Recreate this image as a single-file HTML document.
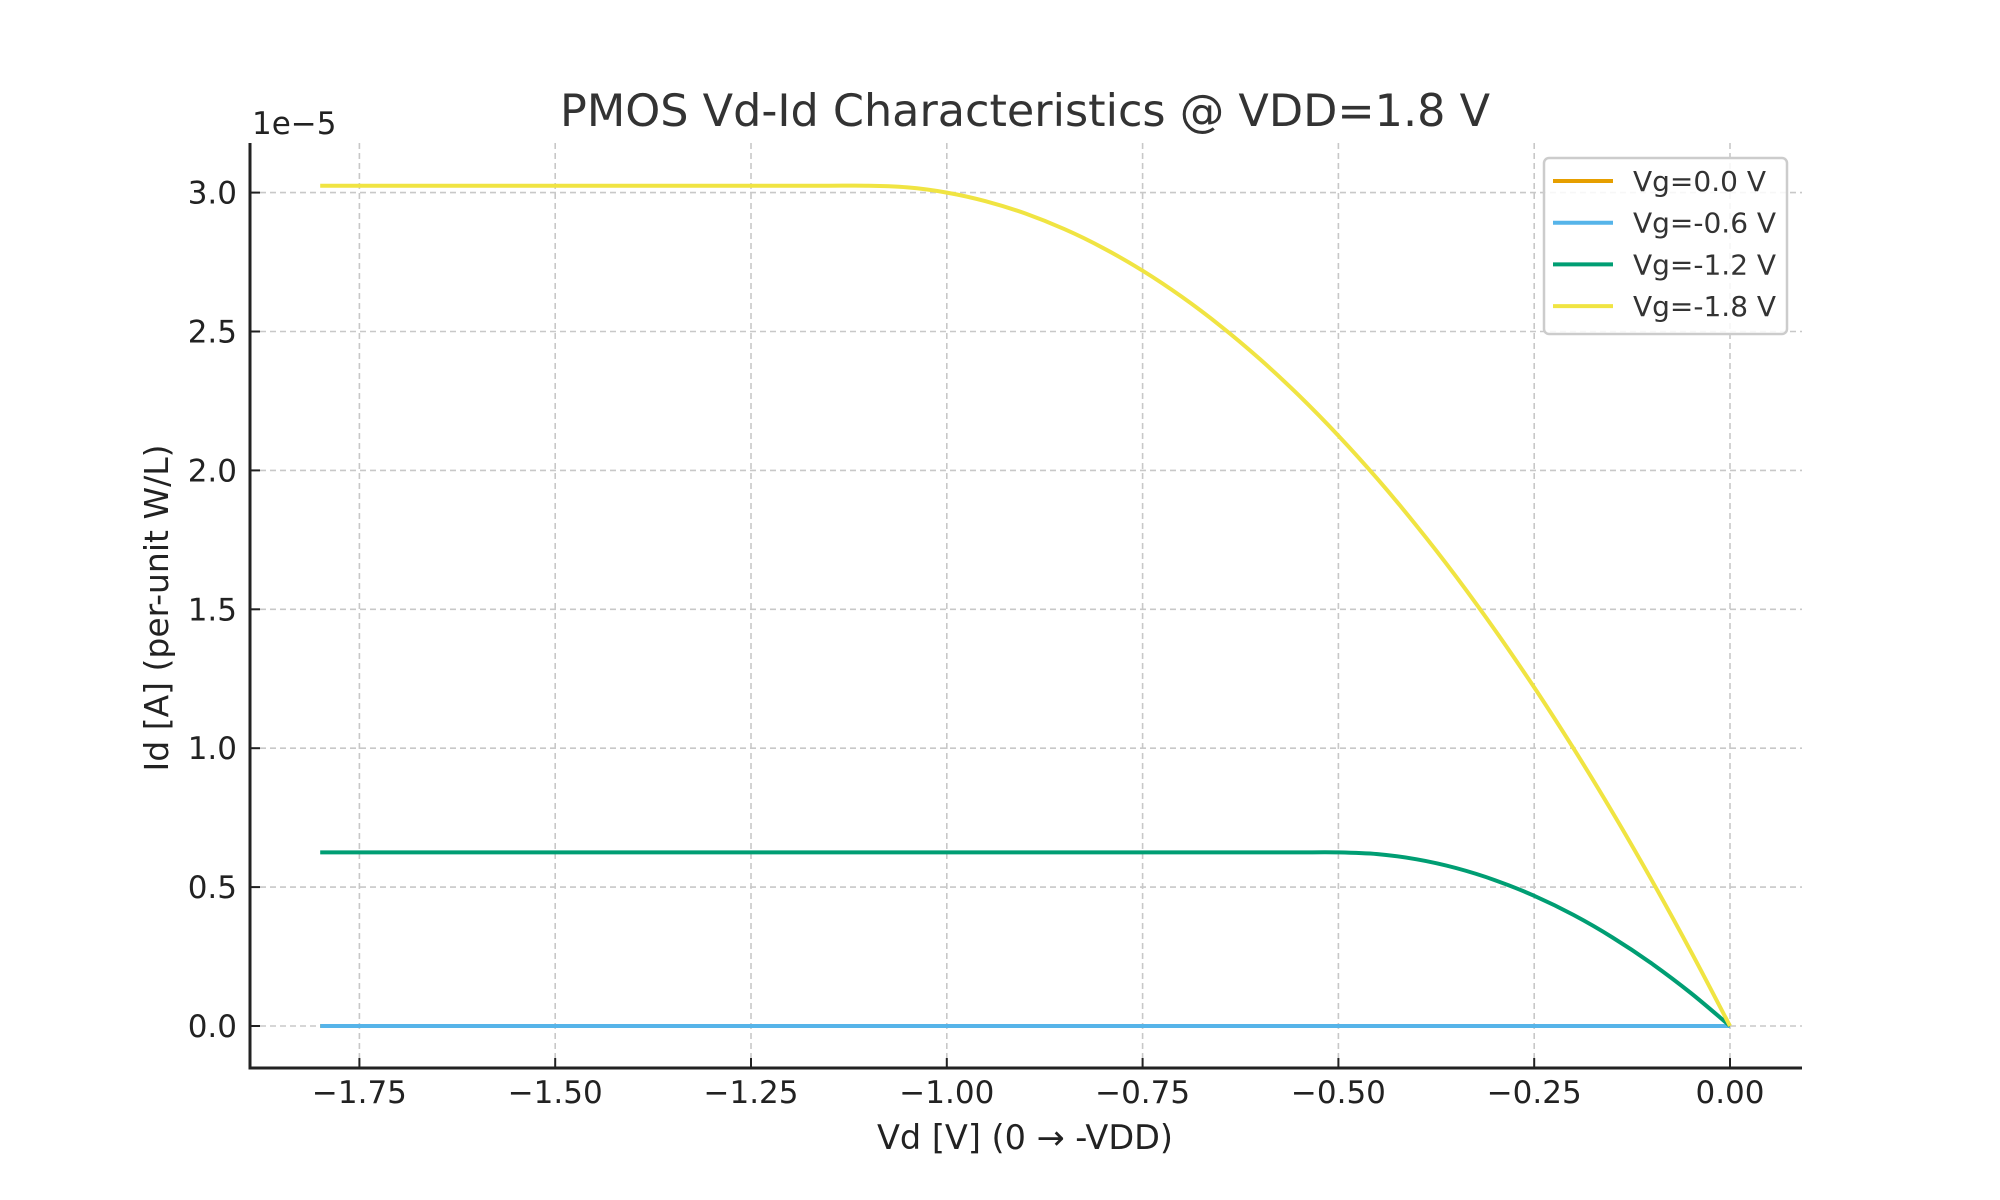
<!DOCTYPE html>
<html><head><meta charset="utf-8"><style>
html,body{margin:0;padding:0;background:#fff}
svg{display:block}
text{font-family:"DejaVu Sans","Liberation Sans",sans-serif}
</style></head><body>
<svg id="chart" width="2000" height="1200" viewBox="0 0 2000 1200">
<rect width="2000" height="1200" fill="#fff"/>
<g id="grid"></g>
<g id="series"></g>
<g id="axes"></g>
<text x="1025" y="126" font-size="44.5" fill="#333" text-anchor="middle">PMOS Vd-Id Characteristics @ VDD=1.8 V</text>
<text x="252" y="134" font-size="31" fill="#222">1e−5</text>
<text x="1025" y="1149" font-size="33.5" fill="#222" text-anchor="middle">Vd [V] (0 → -VDD)</text>
<text x="0" y="0" font-size="33" fill="#222" text-anchor="middle" transform="translate(168,608) rotate(-90)">Id [A] (per-unit W/L)</text>
<g id="legend">
<rect x="1544" y="158" width="243" height="176" rx="5" fill="#fff" fill-opacity="0.85" stroke="#ccc" stroke-width="2.5"/>
</g>
</svg>
<script>
const vd = [0,-0.05,-0.1,-0.15,-0.2,-0.25,-0.3,-0.35,-0.4,-0.45,-0.5,-0.55,-0.6,-0.65,-0.7,-0.75,-0.8,-0.85,-0.9,-0.95,-1.0,-1.05,-1.1,-1.15,-1.2,-1.25,-1.3,-1.35,-1.4,-1.45,-1.5,-1.55,-1.6,-1.65,-1.7,-1.75,-1.8];
const idVg0 = [0,0,0,0,0,0,0,0,0,0,0,0,0,0,0,0,0,0,0,0,0,0,0,0,0,0,0,0,0,0,0,0,0,0,0,0,0];
const idVg06 = [0,0,0,0,0,0,0,0,0,0,0,0,0,0,0,0,0,0,0,0,0,0,0,0,0,0,0,0,0,0,0,0,0,0,0,0,0];
const idVg12 = [0,0.11875,0.225,0.31875,0.4,0.46875,0.525,0.56875,0.6,0.61875,0.625,0.625,0.625,0.625,0.625,0.625,0.625,0.625,0.625,0.625,0.625,0.625,0.625,0.625,0.625,0.625,0.625,0.625,0.625,0.625,0.625,0.625,0.625,0.625,0.625,0.625,0.625];
const idVg18 = [0,0.26875,0.525,0.76875,1.0,1.21875,1.425,1.61875,1.8,1.96875,2.125,2.26875,2.4,2.51875,2.625,2.71875,2.8,2.86875,2.925,2.96875,3.0,3.01875,3.025,3.025,3.025,3.025,3.025,3.025,3.025,3.025,3.025,3.025,3.025,3.025,3.025,3.025,3.025];
const xTicks = [-1.75,-1.5,-1.25,-1.0,-0.75,-0.5,-0.25,0];
const xTickLabels = ["−1.75","−1.50","−1.25","−1.00","−0.75","−0.50","−0.25","0.00"];
const yTicks = [0,0.5,1.0,1.5,2.0,2.5,3.0];
const yTickLabels = ["0.0","0.5","1.0","1.5","2.0","2.5","3.0"];
const seriesNames = ["Vg=0.0 V","Vg=-0.6 V","Vg=-1.2 V","Vg=-1.8 V"];
const seriesData = [idVg0, idVg06, idVg12, idVg18];
const colors = ["#e69f00","#56b4e9","#009e73","#f0e442"];

const NS="http://www.w3.org/2000/svg";
const X0=250,X1=1802,Y0=1068,Y1=143;
function sx(v){return 1730+v*783.2;}
function sy(v){return 1026-v*277.8;}
function mk(tag,attrs,parent){const e=document.createElementNS(NS,tag);for(const k in attrs)e.setAttribute(k,attrs[k]);parent.appendChild(e);return e;}
const grid=document.getElementById('grid'),axes=document.getElementById('axes'),ser=document.getElementById('series'),leg=document.getElementById('legend');
xTicks.forEach((t,i)=>{
  const x=sx(t);
  const g=mk('line',{x1:x,x2:x,y1:Y1,y2:Y0,stroke:'#c8c8c8','stroke-width':1.6,'stroke-dasharray':'6,4'},grid);
  
  
  const tk=mk('line',{x1:x,x2:x,y1:Y0,y2:Y0-10,stroke:'#222','stroke-width':2},axes);
  
  
  const tl=mk('text',{x:x,y:1103,'font-size':31,fill:'#222','text-anchor':'middle'},axes);
  tl.textContent=xTickLabels[i];
  
  
});
yTicks.forEach((t,i)=>{
  const y=sy(t);
  const g=mk('line',{x1:X0,x2:X1,y1:y,y2:y,stroke:'#c8c8c8','stroke-width':1.6,'stroke-dasharray':'6,4'},grid);
  
  
  const tk=mk('line',{x1:X0,x2:X0+10,y1:y,y2:y,stroke:'#222','stroke-width':2},axes);
  
  
  const tl=mk('text',{x:237,y:y+11,'font-size':31,fill:'#222','text-anchor':'end'},axes);
  tl.textContent=yTickLabels[i];
  
  
});
const ls=mk('line',{x1:X0,x2:X0,y1:Y1,y2:Y0+1.5,stroke:'#222','stroke-width':3},axes);


const bs=mk('line',{x1:X0,x2:X1,y1:Y0,y2:Y0,stroke:'#222','stroke-width':3},axes);


function smoothPath(P){
  let d='M'+P[0][0].toFixed(1)+','+P[0][1].toFixed(1);
  for(let i=0;i<P.length-1;i++){
    const p0=P[Math.max(0,i-1)],p1=P[i],p2=P[i+1],p3=P[Math.min(P.length-1,i+2)];
    const c1=[p1[0]+(p2[0]-p0[0])/6,p1[1]+(p2[1]-p0[1])/6];
    const c2=[p2[0]-(p3[0]-p1[0])/6,p2[1]-(p3[1]-p1[1])/6];
    d+=' C'+c1[0].toFixed(1)+','+c1[1].toFixed(1)+' '+c2[0].toFixed(1)+','+c2[1].toFixed(1)+' '+p2[0].toFixed(1)+','+p2[1].toFixed(1);
  }
  return d;
}
seriesData.forEach((d,s)=>{
  const P=d.map((v,i)=>[sx(vd[i]),sy(v)]);
  const p=mk('path',{d:smoothPath(P),fill:'none',stroke:colors[s],'stroke-width':4,'stroke-linejoin':'round'},ser);
  
  
  const ly=181+s*41.7;
  const ll=mk('line',{x1:1553,x2:1613,y1:ly,y2:ly,stroke:colors[s],'stroke-width':4},leg);
  
  
  const lt=mk('text',{x:1633,y:ly+10,'font-size':28,fill:'#333'},leg);
  lt.textContent=seriesNames[s];
  
  
});
</script>
</body></html>
